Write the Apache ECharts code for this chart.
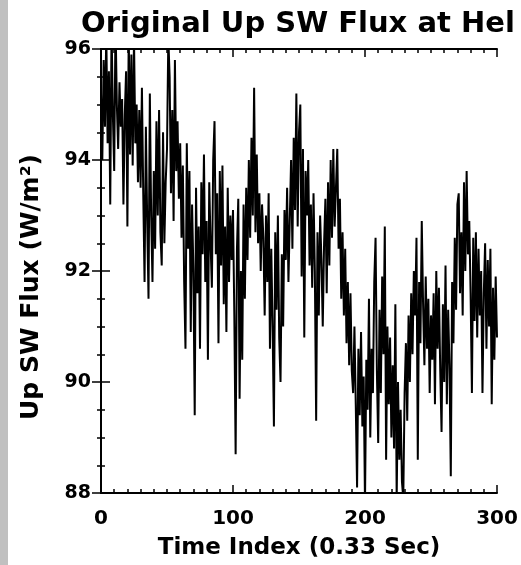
<!DOCTYPE html>
<html>
<head>
<meta charset="utf-8">
<script src="https://cdn.jsdelivr.net/npm/echarts@6/dist/echarts.min.js"></script>
<style>html,body{margin:0;padding:0;background:#fff;}#c{width:521px;height:565px;}</style>
</head>
<body>
<div id="c"></div>
<script>
const titleText = "Original Up SW Flux at Hel";
const xAxisName = "Time Index (0.33 Sec)";
const yAxisName = "Up SW Flux (W/m\u00B2)";
const xTicks = [0, 100, 200, 300];
const yTicks = [88, 90, 92, 94, 96];
const fluxValues = [
95.2, 94.0, 95.8, 94.6, 96.3, 94.3, 95.6, 93.2, 96.4, 94.8, 93.8, 96.5, 95.0, 94.2, 95.4, 94.6, 95.1, 93.2, 94.8, 95.6,
92.8, 96.3, 94.1, 95.9, 93.9, 96.2, 94.3, 95.0, 93.6, 94.9, 93.5, 95.3, 93.4, 91.8, 94.6, 92.9, 91.5, 95.2, 93.0, 91.8,
93.8, 92.4, 94.7, 93.0, 94.9, 92.7, 92.1, 94.5, 92.5, 93.6, 94.2, 96.2, 95.5, 93.4, 94.9, 92.9, 95.8, 93.8, 94.7, 93.3,
94.3, 92.6, 93.9, 91.8, 90.6, 94.3, 92.4, 93.8, 90.9, 93.2, 92.0, 89.4, 93.5, 91.6, 92.8, 90.6, 93.6, 92.3, 94.1, 91.8,
92.9, 90.4, 93.6, 92.5, 91.7, 94.0, 94.7, 92.3, 93.4, 90.7, 93.8, 92.1, 93.9, 91.4, 92.8, 90.9, 93.5, 91.8, 93.0, 92.2,
93.1, 91.2, 88.7, 92.4, 93.3, 89.7, 92.0, 90.4, 93.2, 91.5, 93.5, 92.2, 94.0, 92.6, 94.4, 93.0, 95.3, 92.7, 94.1, 92.5,
93.4, 92.0, 93.2, 92.6, 91.2, 93.0, 91.8, 93.4, 90.6, 92.4, 91.0, 89.2, 92.7, 91.3, 93.0, 90.8, 90.0, 92.3, 91.0, 93.1,
92.2, 93.5, 91.8, 92.9, 94.0, 92.4, 94.4, 93.1, 95.2, 92.8, 94.5, 95.0, 91.9, 94.2, 90.8, 93.8, 93.0, 94.0, 92.1, 93.2,
91.7, 93.4, 92.0, 89.3, 92.7, 91.2, 93.0, 92.2, 91.0, 92.5, 93.3, 91.6, 93.6, 92.1, 94.0, 92.6, 94.2, 92.8, 93.5, 94.2,
92.4, 93.3, 91.5, 92.7, 91.2, 92.4, 90.7, 91.8, 90.3, 91.6, 90.2, 89.8, 91.0, 89.6, 88.1, 90.6, 89.4, 90.9, 89.2, 90.1,
87.8, 90.4, 89.5, 91.5, 89.0, 90.6, 89.8, 91.8, 92.6, 90.2, 88.9, 91.3, 89.8, 91.9, 90.5, 92.8, 88.6, 91.0, 89.6, 90.8,
89.0, 90.3, 88.8, 91.4, 87.9, 90.0, 88.6, 89.5, 88.2, 87.9, 89.8, 90.7, 89.3, 91.2, 90.0, 91.6, 90.5, 92.0, 91.2, 92.6,
88.6, 91.8, 90.7, 92.9, 91.4, 90.3, 91.9, 90.6, 91.5, 89.8, 91.2, 90.4, 91.6, 89.6, 92.0, 90.6, 91.7, 90.2, 89.1, 91.4,
90.0, 92.1, 89.6, 91.3, 90.3, 88.3, 91.8, 90.7, 92.6, 91.3, 93.2, 93.4, 91.6, 92.7, 91.2, 93.6, 92.0, 93.8, 92.3, 92.9,
91.6, 89.8, 92.6, 91.1, 92.7, 90.8, 92.4, 91.2, 92.0, 89.8, 91.6, 92.5, 90.6, 92.2, 91.0, 92.4, 89.6, 91.7, 90.4, 91.9, 90.8
];

const FONT = "'DejaVu Sans', Verdana, sans-serif";
const seriesData = fluxValues.map((v, i) => [i, v]);
const xMin = xTicks[0], xMax = xTicks[xTicks.length - 1], xStep = xTicks[1] - xTicks[0];
const yMin = yTicks[0], yMax = yTicks[yTicks.length - 1], yStep = yTicks[1] - yTicks[0];

const axisLine = { show: true, lineStyle: { color: '#000', width: 2 } };
const mkX = (pos, labels) => ({
  type: 'value', position: pos, min: xMin, max: xMax, interval: xStep,
  axisLine: axisLine,
  axisTick: { show: true, inside: true, length: 8, lineStyle: { color: '#000', width: 1.5 } },
  minorTick: { show: true, splitNumber: 10, length: 4, lineStyle: { color: '#000', width: 1.5 } },
  splitLine: { show: false },
  axisLabel: { show: labels, margin: 16, color: '#000', fontFamily: FONT, fontWeight: 'bold', fontSize: 20 },
  name: labels ? xAxisName : '', nameLocation: 'middle', nameGap: 44,
  nameTextStyle: { color: '#000', fontFamily: FONT, fontSize: 23, fontWeight: 'bold' }
});
const mkY = (pos, labels) => ({
  type: 'value', position: pos, min: yMin, max: yMax, interval: yStep,
  axisLine: axisLine,
  axisTick: { show: true, inside: true, length: 9, lineStyle: { color: '#000', width: 1.5 } },
  minorTick: { show: true, splitNumber: 4, length: 4, lineStyle: { color: '#000', width: 1.5 } },
  splitLine: { show: false },
  axisLabel: { show: labels, margin: 10, color: '#000', fontFamily: FONT, fontWeight: 'bold', fontSize: 19 }
});

const chart = echarts.init(document.getElementById('c'), null, { renderer: 'canvas' });
chart.setOption({
  backgroundColor: '#fff',
  animation: false,
  title: {
    text: titleText, left: 76, top: 5,
    textStyle: { color: '#000', fontFamily: FONT, fontSize: 29, fontWeight: 'bold' }
  },
  graphic: [
    { type: 'rect', left: 0, top: 0, shape: { x: 0, y: 0, width: 8, height: 565 }, style: { fill: '#c0c0c0' }, silent: true },
    { type: 'text', x: 31, y: 287, rotation: Math.PI / 2, silent: true,
      style: { text: yAxisName, fill: '#000', font: "bold 25px 'DejaVu Sans', Verdana, sans-serif", align: 'center', verticalAlign: 'middle' } }
  ],
  grid: { left: 101, right: 24, top: 49, bottom: 72, containLabel: false },
  xAxis: [mkX('bottom', true), mkX('top', false)],
  yAxis: [mkY('left', true), mkY('right', false)],
  series: [{
    type: 'line', data: seriesData, xAxisIndex: 0, yAxisIndex: 0,
    showSymbol: false, symbol: 'none', clip: true,
    lineStyle: { color: '#000', width: 2 }
  }]
});
</script>
</body>
</html>
